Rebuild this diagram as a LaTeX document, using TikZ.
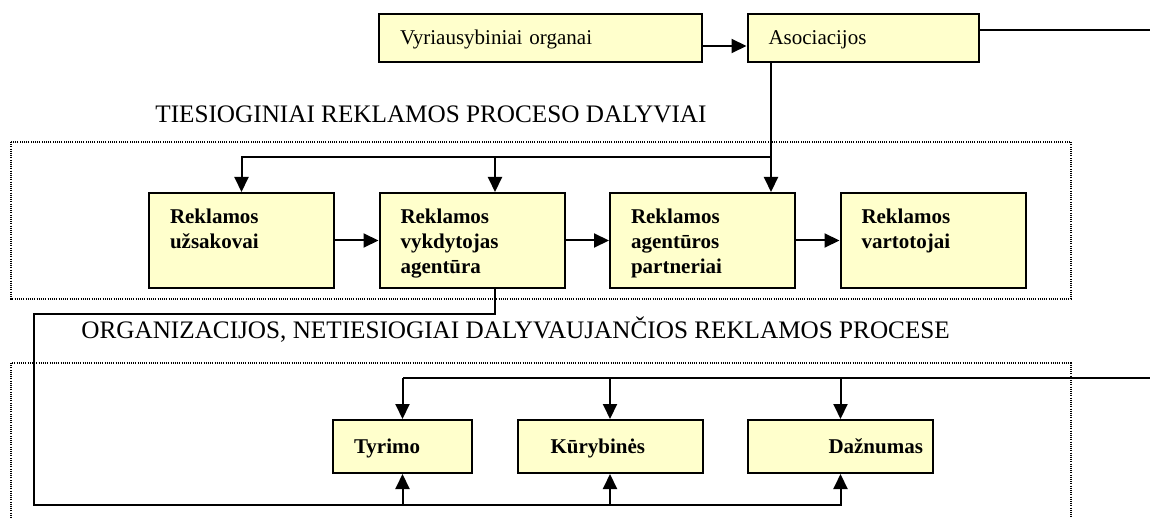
\documentclass[tikz,border=0pt]{standalone}
\usepackage{fontspec}
\setmainfont{Liberation Serif}
\usetikzlibrary{positioning,arrows.meta}
\definecolor{boxfill}{HTML}{FFFFCC}
\tikzset{
	node distance = 21.75pt, % gap between neighbouring boxes
	link/.style = {-{Triangle[length=7.5pt,width=7pt]}, line width=1pt},
	wire/.style = {line width=1pt},
	edgewire/.style = {line width=0.7pt}, % the lines that leave the page on the right
	frame/.style = {line width=0.6pt, dash pattern=on 0.5pt off 0.6pt},
	box/.style = {rectangle, draw, line width=1pt, fill=boxfill, inner xsep=10.5pt, inner ysep=0pt, align=left},
	headbox/.style = {box, minimum height=24pt, text height=7pt, text depth=0pt, font=\fontsize{10.5}{12.5}\selectfont},
	actor/.style = {box, text width=71.5pt, text height=15.4pt, text depth=32.1pt, font=\bfseries\fontsize{10.5}{12.5}\selectfont},
	helper/.style = {box, minimum height=26.5pt, text height=7pt, text depth=0pt, font=\bfseries\fontsize{10.5}{12.5}\selectfont},
	group/.style = {anchor=base west, inner sep=0pt, font=\fontsize{12.6}{15}\selectfont}
}

\begin{document}
\begin{tikzpicture}[x=0.5pt,y=-0.5pt]
	\useasboundingbox (0,0) rectangle (1150,518);
	% dotted groups
	\draw[frame] (11,142) rectangle (1071,299);
	\draw[frame] (11,518) -- (11,363) -- (1071,363) -- (1071,518);
	\node[group] (direct) at (155,123) {TIESIOGINIAI REKLAMOS PROCESO DALYVIAI};
	\node[group] (indirect) at (81,338) {ORGANIZACIJOS, NETIESIOGIAI DALYVAUJANČIOS REKLAMOS PROCESE};
	% top row
	\node[headbox, text width=140.5pt] (vyr) at (540.5,38) {Vyriausybiniai organai};
	\node[headbox, text width=94.5pt, right=of vyr] (asoc) {Asociacijos};
	% direct participants
	\node[actor] (uzs) at (241.5,240.5) {Reklamos\\užsakovai};
	\node[actor, right=of uzs] (vyk) {Reklamos\\vykdytojas\\agentūra};
	\node[actor, right=of vyk] (part) {Reklamos\\agentūros\\partneriai};
	\node[actor, right=of part] (vart) {Reklamos\\vartotojai};
	% indirect participants
	\node[helper, text width=48.5pt] (tyr) at (402.5,446.5) {Tyrimo};
	\node[helper, inner xsep=16.5pt, text width=59.5pt, right=of tyr] (kur) {Kūrybinės};
	\node[helper, inner xsep=5pt, text width=82.5pt, align=right, right=of kur] (daz) {Dažnumas};
	\coordinate (split) at (771,157);
	\coordinate (vykdrop) at (495,157);
	\coordinate (loopa) at (34,314);
	\coordinate (loopb) at (34,505);
	\coordinate (outtop) at (1150,30);
	\coordinate (outbot) at (1150,378);
	\draw[link] ([yshift=-4pt]vyr.east) -- ([yshift=-4pt]asoc.west);
	\draw[edgewire] (asoc.east |- outtop) -- (outtop);
	\draw[link] (asoc.south -| split) -- (part.north -| split);
	\draw[link] (split) -| (uzs.north);
	\draw[link] (vykdrop) -- (vykdrop |- vyk.north);
	\draw[link] (uzs) -- (vyk);
	\draw[link] (vyk) -- (part);
	\draw[link] (part) -- (vart);
	% loop from the agency down to the helpers
	\draw[link] (vykdrop |- vyk.south) |- (loopa) -- (loopb) -| (daz.south);
	\foreach \n in {tyr,kur}
		\draw[link] (loopb -| \n.south) -- (\n.south);
	\draw[edgewire] (outbot) -- (outbot -| tyr.north);
	\foreach \n in {tyr,kur,daz}
		\draw[link] (outbot -| \n.north) -- (\n.north);
\end{tikzpicture}
\end{document}
